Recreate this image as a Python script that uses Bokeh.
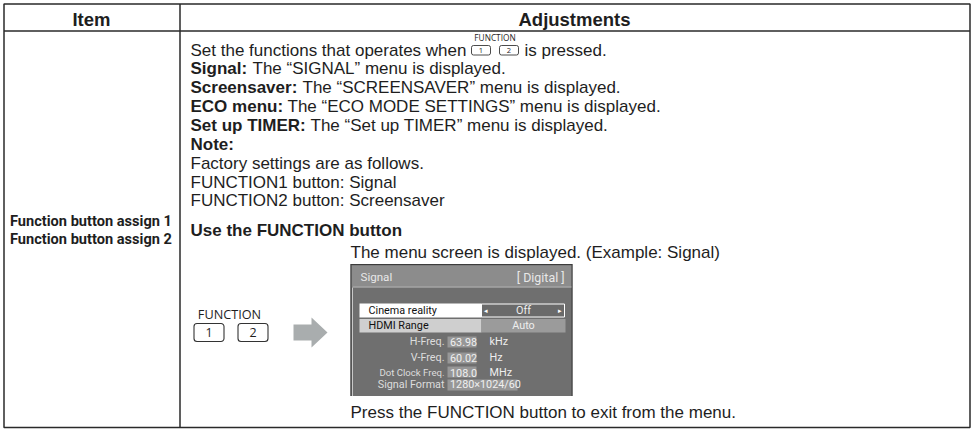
from bokeh.plotting import figure
from bokeh.embed import file_html
from bokeh.resources import INLINE
from bokeh.core.properties import value

headers = ["Item", "Adjustments"]
item_lines = ["Function button assign 1", "Function button assign 2"]
bold_runs = ["Signal:", "Screensaver:", "ECO menu:", "Set up TIMER:"]
plain_runs = ["The “SIGNAL” menu is displayed.", "The “SCREENSAVER” menu is displayed.",
              "The “ECO MODE SETTINGS” menu is displayed.", "The “Set up TIMER” menu is displayed."]
intro = ["Set the functions that operates when", "is pressed."]
note_title = "Note:"
note_lines = ["Factory settings are as follows.", "FUNCTION1 button: Signal", "FUNCTION2 button: Screensaver"]
use_title = "Use the FUNCTION button"
menu_caption = "The menu screen is displayed. (Example: Signal)"
exit_caption = "Press the FUNCTION button to exit from the menu."
key_title = "FUNCTION"
key_labels = ["1", "2"]
menu_title = ["Signal", "[ Digital ]"]
menu_rows = ["Cinema reality", "HDMI Range"]
menu_vals = ["Off", "Auto"]
info_labels = ["H-Freq.", "V-Freq.", "Dot Clock Freq.", "Signal Format"]
info_vals = ["63.98", "60.02", "108.0", "1280×1024/60"]
info_units = ["kHz", "Hz", "MHz", ""]

W, H = 972, 429
p = figure(width=W, height=H, x_range=(0, W), y_range=(H, 0), output_backend="svg",
           toolbar_location=None, min_border=0, outline_line_color=None, margin=(0, 0, 0, 0))
p.axis.visible = False
p.grid.visible = False
FONT = value("Liberation Sans")
ROB = value("Roboto")
INK = "#1e1e1e"
BODY = 17

def txt(x, y, s, size=BODY, bold=False, align="left", color=INK, font=FONT):
    p.text([x], [y], text=[s], text_font=font, text_font_size=f"{size}px",
           text_font_style="bold" if bold else "normal", text_align=align,
           text_baseline="middle", text_color=color)

def box(l, r, t, b, fill, line=None, lw=1.0, rad=0):
    p.quad(left=[l], right=[r], top=[t], bottom=[b], fill_color=fill, line_color=line,
           line_width=lw, border_radius=rad)

# table frame
box(3.5, 969.5, 3.5, 427, "white", "#2a2a2a", 1.5)
p.segment([3.5], [30.5], [969.5], [30.5], line_color="#2a2a2a", line_width=1.5)
p.segment([179.5], [3.5], [179.5], [427], line_color="#2a2a2a", line_width=1.5)

txt(91, 18.5, headers[0], 18.5, True, "center")
txt(574, 18.5, headers[1], 18.5, True, "center")
txt(9.5, 220.7, item_lines[0], 14.6, True, font=ROB)
txt(9.5, 238.3, item_lines[1], 14.6, True, font=ROB)

# intro line with inline keys
txt(190, 49.5, intro[0])
txt(524, 49.5, intro[1])
txt(494.5, 37, key_title, 8.3, align="center", font=value("Open Sans"))
for l, s in zip((471, 499), key_labels):
    box(l, l + 19, 45, 54.5, "white", INK, 0.8, 2)
    txt(l + 9.5, 49.8, s, 7.5, align="center", font=value("Open Sans"))

for y, x, b, s in zip((68, 86.7, 105.7, 124.5), (252, 302, 287, 310), bold_runs, plain_runs):
    txt(190, y, b, bold=True)
    txt(x, y, s)
txt(190, 143.7, note_title, bold=True)
for y, s in zip((162.7, 181.7, 200), note_lines):
    txt(190, y, s)
txt(190, 229.7, use_title, bold=True)
txt(350, 251.7, menu_caption)
txt(350, 411.7, exit_caption)

# FUNCTION key icon
txt(229, 313, key_title, 12.7, align="center", font=value("Open Sans"))
for l, s in zip((193.5, 237.5), key_labels):
    box(l, l + 30, 323, 341, "white", "#333333", 1.1, 3)
    txt(l + 15, 332, s, 12.5, align="center", font=value("Open Sans"))
p.patch([293, 311, 311, 327, 311, 311, 293], [324, 324, 317, 332, 347, 340, 340],
        fill_color="#a9adae", line_color=None)

# menu screenshot
box(350, 572, 264, 395.5, "#6f6f6f")
box(351, 571.5, 265, 286, "#8c8c8c")
p.multi_line([[350, 572], [350.5, 350.5], [571.5, 571.5]], [[264, 264], [264, 395.5], [264, 395.5]],
             line_color="#3c3c3c", line_width=1)
p.segment([352], [287], [352], [395.5], line_color="#c8c8c8", line_width=1)
p.segment([352], [286.5], [571], [286.5], line_color="#c0c0c0", line_width=1)
txt(360, 276.5, menu_title[0], 11.6, color="#e8e8e8", font=ROB)
txt(564, 277, menu_title[1], 12.4, align="right", color="#e8e8e8", font=ROB)
box(359, 481, 303, 317, "white")
box(481, 564, 303.5, 316.5, "#6a6a6a", "white", 1)
box(359, 481, 318.5, 332, "#cfcfcf")
box(481, 565, 318.5, 332, "#9b9b9b")
txt(368, 310, menu_rows[0], 10.8, color="#111111", font=ROB)
txt(368, 325, menu_rows[1], 10.8, color="#111111", font=ROB)
txt(523, 310, menu_vals[0], 10.8, align="center", color="#eeeeee", font=ROB)
txt(523, 325, menu_vals[1], 10.8, align="center", color="#eeeeee", font=ROB)
txt(485, 310, "◂", 7, align="center", color="white")
txt(559, 310, "▸", 7, align="center", color="white")
for (t, b, r, my), lab, val, un in zip(((336, 347, 476, 341), (352, 363, 476, 357), (366, 377, 476, 372), (379, 390, 517, 384)),
                                       info_labels, info_vals, info_units):
    box(447, r, t, b, "#979797")
    sz = 9.6 if lab == "Dot Clock Freq." else 10.8
    txt(444, my, lab, sz, align="right", color="#dddddd", font=ROB)
    txt(449.5, my, val, 10.8, color="#f0f0f0", font=ROB)
    if un:
        txt(489, my, un, 10.8, color="#eeeeee", font=ROB)

open("out.html", "w").write(file_html(p, INLINE))
